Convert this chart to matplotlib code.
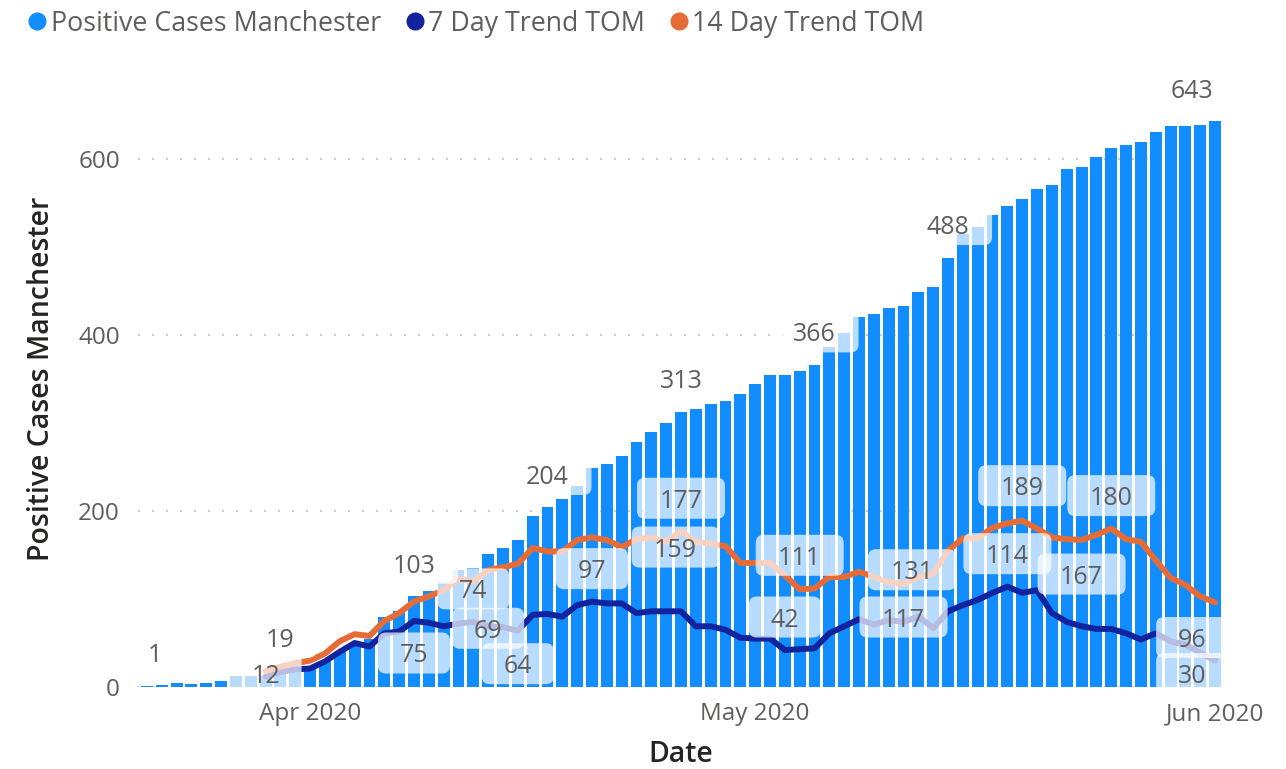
import numpy as np
import pandas as pd
import matplotlib
matplotlib.use("Agg")
import matplotlib.pyplot as plt
import matplotlib.dates as mdates
import matplotlib.transforms as mtransforms
from matplotlib.patches import FancyBboxPatch
from matplotlib.lines import Line2D

# ---------------- data ----------------
start_date = "2020-03-21"
positive_cases = [1, 2, 4, 3, 5, 7, 12, 12, 12, 19, 19, 24, 30, 40, 50, 55, 79, 86, 103, 109,
                  119, 133, 135, 151, 158, 167, 194, 204, 214, 228, 249, 253, 262, 278, 290, 300,
                  313, 316, 322, 325, 333, 344, 355, 355, 359, 366, 386, 402, 421, 424, 431, 433,
                  449, 455, 488, 515, 523, 536, 547, 554, 566, 571, 589, 591, 602, 612, 616, 619,
                  631, 637, 638, 639, 643]
trend_start = 8  # trends begin on the 9th day
trend_7_day = [12, 17, 20, 21, 29, 40, 50, 46, 61, 63, 75, 73, 69, 72, 74, 69, 68, 64, 82, 83,
               80, 93, 97, 95, 95, 84, 86, 86, 86, 69, 69, 65, 56, 55, 55, 42, 43, 44, 61, 69,
               77, 71, 76, 74, 80, 67, 86, 93, 99, 107, 114, 107, 110, 84, 74, 69, 66, 66, 61, 54,
               61, 52, 48, 39, 30]
trend_14_day = [18, 23, 27, 30, 38, 52, 60, 58, 75, 84, 97, 103, 110, 123, 120, 133, 136, 140,
                158, 154, 154, 167, 170, 167, 159, 168, 170, 165, 177, 165, 163, 160, 141, 141,
                141, 127, 111, 112, 125, 125, 131, 125, 119, 117, 125, 129, 155, 169, 169, 181,
                186, 189, 180, 170, 168, 167, 173, 180, 168, 165, 144, 124, 116, 103, 96]
tick_dates = ["2020-04-01", "2020-05-01", "2020-06-01"]
y_ticks = [0, 200, 400, 600]
series_names = ["Positive Cases Manchester", "7 Day Trend TOM", "14 Day Trend TOM"]

# labels: (series, day index, dx px, dy px)
label_layout = [
    ("bar", 0, 8, 31), ("bar", 9, 0, 30), ("bar", 18, 0, 30), ("bar", 27, 0, 30),
    ("bar", 36, 0, 30), ("bar", 45, 0, 30), ("bar", 54, 0, 30), ("bar", 72, -23, 30),
    ("t7", 8, 0, 0), ("t7", 18, 0, -35), ("t7", 22, 0, 30), ("t7", 23, 0, -5),
    ("t7", 25, 0, -36), ("t7", 30, 0, 30), ("t7", 43, 0, 30), ("t7", 58, 0, 30),
    ("t7", 72, -23, -16),
    ("t14", 36, 0, 30), ("t14", 32, 54, -3), ("t14", 44, 0, 31), ("t14", 51, 0, -36),
    ("t14", 48, 53, -1), ("t14", 59, 0, 32), ("t14", 63, 0, -37), ("t14", 65, 0, 30),
    ("t14", 72, -23, -38),
]

# ---------------- style ----------------
BAR_C = "#118DFF"
T7_C = "#12239E"
T14_C = "#E66C37"
TXT_C = "#605E5C"
TITLE_C = "#252423"
FONT = ["Open Sans", "DejaVu Sans"]
plt.rcParams["font.family"] = FONT

W, H, DPI = 1286, 769, 100
fig = plt.figure(figsize=(W / DPI, H / DPI), dpi=DPI)

# axes placement in pixels
ax_left, ax_right, ax_bottom, ax_top = 138, 1224, 687, 71
ax = fig.add_axes([ax_left / W, 1 - ax_bottom / H, (ax_right - ax_left) / W, (ax_bottom - ax_top) / H])

dates = pd.date_range(start_date, periods=len(positive_cases), freq="D")
tdates = dates[trend_start:]

ax.bar(dates, positive_cases, width=0.8, color=BAR_C, zorder=2)
ax.plot(tdates, trend_7_day, color=T7_C, lw=4.3, zorder=3, solid_joinstyle="round", solid_capstyle="round")
ax.plot(tdates, trend_14_day, color=T14_C, lw=4.3, zorder=3, solid_joinstyle="round", solid_capstyle="round")

ax.set_xlim(dates[0] - pd.Timedelta(hours=14.4), dates[-1] + pd.Timedelta(hours=14.4))
ax.set_ylim(0, 700)

for yv in y_ticks:
    ax.axhline(yv, color="#C8C6C4", lw=1.6, linestyle=(0, (0.8, 5.5)), zorder=1)

ax.set_yticks(y_ticks)
ax.set_xticks(pd.to_datetime(tick_dates))
ax.xaxis.set_major_formatter(mdates.DateFormatter("%b %Y"))
ax.tick_params(axis="both", length=0, labelsize=17.5, labelcolor=TXT_C)
ax.tick_params(axis="y", pad=13)
ax.tick_params(axis="x", pad=11)
for s in ax.spines.values():
    s.set_visible(False)

ax.set_ylabel("Positive Cases Manchester", fontsize=20.5, color=TITLE_C, fontweight="semibold", labelpad=16)
ax.set_xlabel("Date", fontsize=20.5, color=TITLE_C, fontweight="semibold", labelpad=10)

# data labels with translucent rounded boxes
for name, idx, dx, dy in label_layout:
    if name == "bar":
        val = positive_cases[idx]
    elif name == "t7":
        val = trend_7_day[idx - trend_start]
    else:
        val = trend_14_day[idx - trend_start]
    xd = dates[idx]
    txt = str(val)
    xnum = mdates.date2num(xd.to_pydatetime())
    trans = fig.dpi_scale_trans + mtransforms.ScaledTranslation(xnum, val, ax.transData)
    bw = (72 if len(txt) <= 2 else 88) / DPI
    bh = 41 / DPI
    cx, cy = dx / DPI, (dy + 3) / DPI
    box = FancyBboxPatch((cx - bw / 2, cy - bh / 2), bw, bh,
                         boxstyle="round,pad=0,rounding_size=0.08",
                         transform=trans, facecolor="white", edgecolor="none",
                         alpha=0.7, zorder=5)
    ax.add_artist(box)
    box.set_clip_path(ax.patch)
    ax.annotate(txt, xy=(xd, val), xytext=(dx * 0.72, dy * 0.72), textcoords="offset points",
                ha="center", va="center", fontsize=18, color=TXT_C, zorder=6,
                annotation_clip=False)

# legend
handles = [Line2D([], [], marker="o", linestyle="none", markersize=12, color=c)
           for c in (BAR_C, T7_C, T14_C)]
fig.legend(handles, series_names, loc="upper left", bbox_to_anchor=(0.002, 1.012), ncol=3,
           frameon=False, fontsize=19.3, labelcolor=TXT_C, handletextpad=-0.1,
           columnspacing=0.66, handlelength=1.2, borderaxespad=0.3)

fig.savefig("out.png", dpi=DPI)
